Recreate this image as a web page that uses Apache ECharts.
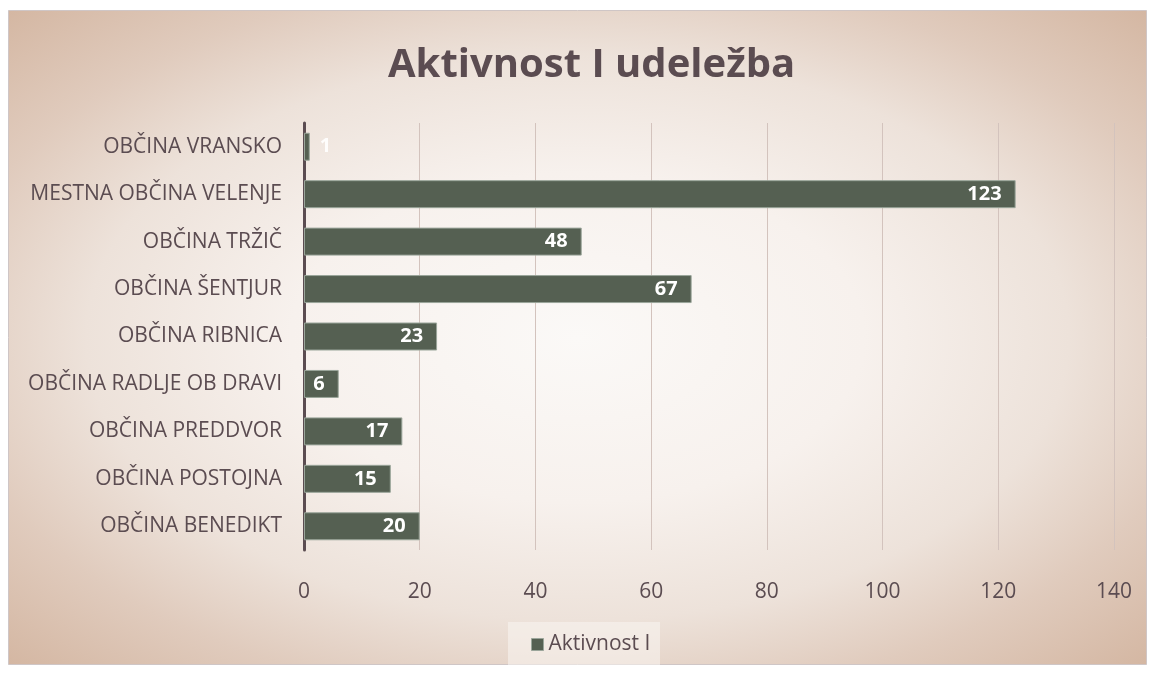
<!DOCTYPE html>
<html><head><meta charset="utf-8">
<script src="https://cdn.jsdelivr.net/npm/echarts@6/dist/echarts.min.js"></script>
<style>html,body{margin:0;padding:0;background:#fff}#c{width:1149px;height:675px}</style>
</head><body><div id="c"></div>
<script>
const title = 'Aktivnost I udeležba';
const seriesName = 'Aktivnost I';
const categories = ['OBČINA BENEDIKT','OBČINA POSTOJNA','OBČINA PREDDVOR','OBČINA RADLJE OB DRAVI','OBČINA RIBNICA','OBČINA ŠENTJUR','OBČINA TRŽIČ','MESTNA OBČINA VELENJE','OBČINA VRANSKO'];
const values = [20,15,17,6,23,67,48,123,1];
const xTicks = [0,20,40,60,80,100,120,140];

const chart = echarts.init(document.getElementById('c'));
const font = '"Open Sans", "Noto Sans", sans-serif';
const W = 1138, H = 654;
chart.setOption({
  animation:false,
  graphic:[
    {type:'rect',z:-10,x:8.5,y:10.5,scaleX:W/H,shape:{x:0,y:0,width:H,height:H},
      style:{fill:new echarts.graphic.RadialGradient(0.5,0.5,0.72,[
        {offset:0,color:'#fbf9f7'},{offset:0.35,color:'#f7f1ed'},{offset:0.6,color:'#ede2da'},
        {offset:0.78,color:'#e0cbbd'},{offset:1,color:'#d3b5a0'}])}},
    {type:'rect',z:-9,shape:{x:8.5,y:10.5,width:W,height:H},style:{fill:'none',stroke:'#cfc6c6',lineWidth:1}},
    {type:'rect',z:-5,shape:{x:508,y:622,width:152,height:43},style:{fill:'rgba(250,246,243,0.55)'}}
  ],
  title:{text:title,left:383,top:41,textStyle:{fontFamily:font,fontSize:40,fontWeight:'bold',color:'#5b4c51'}},
  grid:{left:304,right:35,top:123,bottom:125},
  legend:{bottom:15,left:526,itemWidth:12,itemHeight:12,icon:'rect',
    textStyle:{fontFamily:font,fontSize:21,color:'#5b4c51'},data:[{name:seriesName,itemStyle:{borderColor:'#9aa59a',borderWidth:1}}]},
  xAxis:{type:'value',min:0,max:140,interval:20,
    axisLine:{show:false},axisTick:{show:false},
    axisLabel:{fontFamily:font,fontSize:21,color:'#5b4c51',margin:32},
    splitLine:{lineStyle:{color:'#d3c3bd',width:1}}},
  yAxis:{type:'category',data:categories,
    axisLine:{show:true,lineStyle:{color:'#5b4c51',width:3}},axisTick:{show:false},
    axisLabel:{fontFamily:font,fontSize:21,color:'#5b4c51',margin:22}},
  series:[{type:'bar',name:seriesName,barWidth:28,
    data:values.map(v=>({value:v,label:v<5?{position:'right',distance:10,color:'rgba(255,255,255,0.9)'}:{}})),
    itemStyle:{color:'#556052',borderColor:'#9aa59a',borderWidth:1},
    label:{show:true,position:'insideRight',distance:14,fontFamily:font,fontSize:20,fontWeight:'bold',color:'#ffffff'}}]
});
</script></body></html>
